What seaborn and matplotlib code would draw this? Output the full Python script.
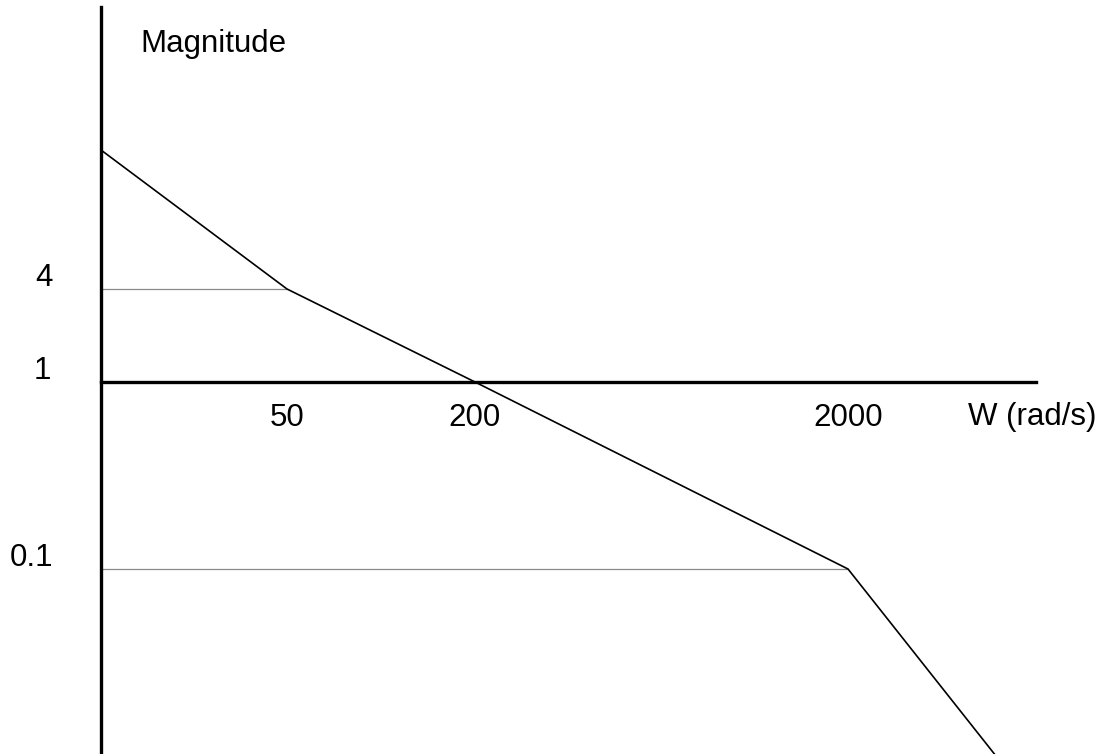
import numpy as np
import matplotlib
matplotlib.use("Agg")
import matplotlib.pyplot as plt
import seaborn as sns

# ---- data (asymptotic magnitude plot) ----
freq = [12.5, 50, 200, 2000, 5000]          # rad/s
mag = [32, 4, 1, 0.1, 0.01]                 # magnitude
x_tick_vals = [50, 200, 2000]
x_tick_labels = ["50", "200", "2000"]
y_tick_vals = [4, 1, 0.1]
y_tick_labels = ["4", "1", "0.1"]
x_title = "W (rad/s)"
y_title = "Magnitude"

# ---- hand-sketched (piecewise logarithmic) axis scales ----
x_scale_vals = [12.5, 50, 200, 2000, 5000]
x_scale_pos = [101, 287, 475, 848, 996]
y_scale_vals = [32, 4, 1, 0.1, 0.01]
y_scale_pos = [604, 465, 372, 185, -2]


def piecewise_log(vals, pos):
    lv = np.log10(np.asarray(vals, float))
    p = np.asarray(pos, float)
    order = np.argsort(lv)
    lv, p = lv[order], p[order]

    def extrap(x, xs, ys):
        out = np.interp(x, xs, ys)
        lo = x < xs[0]
        hi = x > xs[-1]
        out = np.where(lo, ys[0] + (x - xs[0]) * (ys[1] - ys[0]) / (xs[1] - xs[0]), out)
        out = np.where(hi, ys[-1] + (x - xs[-1]) * (ys[-1] - ys[-2]) / (xs[-1] - xs[-2]), out)
        return out

    def fwd(v):
        v = np.clip(np.asarray(v, float), 1e-300, None)
        return extrap(np.log10(v), lv, p)

    def inv(q):
        q = np.asarray(q, float)
        return 10 ** extrap(q, p, lv)

    return fwd, inv


fx, ix = piecewise_log(x_scale_vals, x_scale_pos)
fy, iy = piecewise_log(y_scale_vals, y_scale_pos)

sns.set_theme(style="white")
plt.rcParams["font.family"] = ["Liberation Sans", "DejaVu Sans"]

W, H = 1102, 754
fig = plt.figure(figsize=(W / 100, H / 100), dpi=100)
ax = fig.add_axes([0, 0, 1, 1])
ax.set_xscale("function", functions=(fx, ix))
ax.set_yscale("function", functions=(fy, iy))
ax.set_xlim(float(ix(0)), float(ix(W)))
ax.set_ylim(float(iy(0)), float(iy(H)))
ax.set_facecolor("white")

x0 = freq[0]
# thin grey guide lines
ax.hlines([mag[1]], x0, freq[1], color="#8a8a8a", lw=0.9, zorder=1)
ax.hlines([mag[3]], x0, freq[3], color="#8a8a8a", lw=0.9, zorder=1)

sns.lineplot(x=freq, y=mag, ax=ax, color="black", lw=1.2, sort=False,
             estimator=None, zorder=3)

# axes drawn as spines
for s in ["top", "right"]:
    ax.spines[s].set_visible(False)
ax.spines["left"].set_position(("data", x0))
ax.spines["left"].set_bounds(float(iy(0)), float(iy(H - 7)))
ax.spines["bottom"].set_position(("data", 1))
ax.spines["bottom"].set_bounds(x0, float(ix(1036)))
for s in ["left", "bottom"]:
    ax.spines[s].set_color("black")
    ax.spines[s].set_linewidth(2.4)
    ax.spines[s].set_zorder(4)
ax.set_xticks([])
ax.set_yticks([])
ax.tick_params(length=0)

fs = 22.5
# x labels
for v, t in zip(x_tick_vals, x_tick_labels):
    ax.annotate(t, xy=(v, 0), xycoords=("data", "figure pixels"),
                xytext=(0, H - 426), textcoords="offset pixels",
                ha="center", va="baseline", fontsize=fs, color="black")
ax.annotate(x_title, xy=(968, H - 425), xycoords="figure pixels",
            ha="left", va="baseline", fontsize=fs, color="black")

# y labels
y_label_left = [35, 34, 10]
for v, t, xl in zip(y_tick_vals, y_tick_labels, y_label_left):
    ax.annotate(t, xy=(0, v), xycoords=("figure pixels", "data"),
                xytext=(xl, 3), textcoords="offset pixels",
                ha="left", va="baseline", fontsize=fs, color="black")
ax.annotate(y_title, xy=(140, H - 52), xycoords="figure pixels",
            ha="left", va="baseline", fontsize=fs, color="black")

fig.savefig("out.png", dpi=100, facecolor="white")
